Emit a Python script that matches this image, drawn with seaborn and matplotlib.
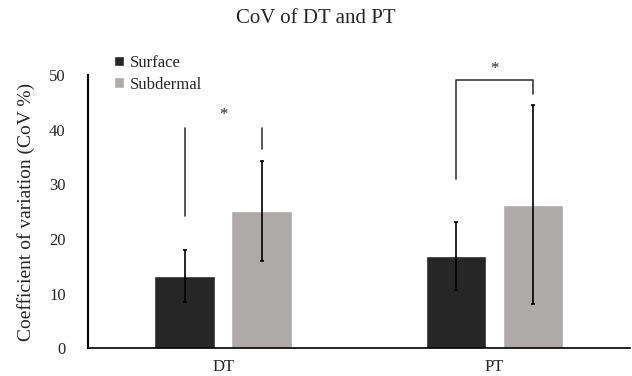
import pandas as pd
import numpy as np
import matplotlib
matplotlib.use("Agg")
import matplotlib.pyplot as plt
import seaborn as sns

# values
categories = ["DT", "PT"]
groups = ["Surface", "Subdermal"]
surface_mean = [13.2, 16.9]
surface_err = [4.7, 6.3]
subdermal_mean = [25.1, 26.3]
subdermal_err = [9.2, 18.2]

df = pd.DataFrame({
    "cat": categories * 2,
    "group": ["Surface"] * 2 + ["Subdermal"] * 2,
    "cov": surface_mean + subdermal_mean,
})
errs = surface_err + subdermal_err

sns.set_style("white")
plt.rcParams["font.family"] = ["Liberation Serif", "DejaVu Serif"]

fig = plt.figure(figsize=(6.32, 3.76), dpi=100)
ax = fig.add_axes([0.139, 0.074, 0.858, 0.726])

sns.barplot(data=df, x="cat", y="cov", hue="group", order=categories,
            hue_order=groups, palette=["#262626", "#aeaaa9"],
            width=0.568, gap=0.21, errorbar=None, saturation=1, ax=ax)

# bar centres from seaborn's own layout
centres = [p.get_x() + p.get_width() / 2 for p in ax.patches[:4]]
ax.errorbar(centres, df["cov"], yerr=errs, fmt="none", ecolor="black",
            elinewidth=1.2, capsize=1.5, capthick=1.2)

# significance marks
lc = "#3a3a3a"
# DT
ax.plot([centres[0], centres[0]], [24.3, 40.3], color=lc, lw=1.2)
ax.plot([centres[2], centres[2]], [36.4, 40.3], color=lc, lw=1.2)
ax.text((centres[0] + centres[2]) / 2, 41.3, "*", ha="center", va="bottom", fontsize=12)
# PT
ax.plot([centres[1], centres[1], centres[3], centres[3]], [31.0, 49.1, 49.1, 46.5],
        color=lc, lw=1.2)
ax.text((centres[1] + centres[3]) / 2, 49.6, "*", ha="center", va="bottom", fontsize=12)

ax.set_xlim(-0.5, 1.5)
ax.set_ylim(0, 50)
ax.set_yticks([0, 10, 20, 30, 40, 50])
ax.tick_params(axis="both", length=0, labelsize=12)
ax.tick_params(axis="y", pad=16)
ax.tick_params(axis="x", pad=8)
ax.set_xlabel("")
ax.set_ylabel("Coefficient of variation (CoV %)", fontsize=14, labelpad=10)
sns.despine(ax=ax)
ax.spines["left"].set_linewidth(1.5)
ax.spines["bottom"].set_linewidth(1.2)
ax.spines["left"].set_color("black")
ax.spines["bottom"].set_color("black")

ax.legend(loc="upper left", bbox_to_anchor=(0.02, 1.13), frameon=False,
          fontsize=12, handlelength=0.6, handleheight=0.6, handletextpad=0.4,
          labelspacing=0.35)

fig.suptitle("CoV of DT and PT", fontsize=15, y=0.975)

fig.savefig("out.png", dpi=100)
